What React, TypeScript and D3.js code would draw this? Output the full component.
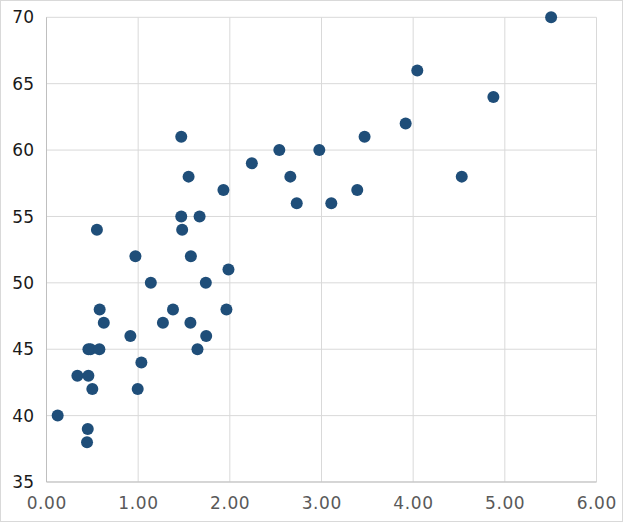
import React from "react";
import * as d3 from "d3";

const xValues = [1.47, 0.55, 0.97, 1.55, 1.93, 1.47, 1.67, 1.48, 1.575, 2.24, 2.54, 2.66, 2.73,
  5.505, 4.045, 4.875, 3.918, 3.47, 2.976, 4.53, 3.39, 3.107,
  1.985, 1.138, 1.738, 0.58, 1.38, 1.963, 0.625, 1.27, 1.57, 0.915, 1.742, 0.457, 0.48, 0.577, 1.647, 1.035, 0.337, 0.457, 0.50, 0.995, 0.122, 0.45, 0.442];
const yValues = [61, 54, 52, 58, 57, 55, 55, 54, 52, 59, 60, 58, 56,
  70, 66, 64, 62, 61, 60, 58, 57, 56,
  51, 50, 50, 48, 48, 48, 47, 47, 47, 46, 46, 45, 45, 45, 45, 44, 43, 43, 42, 42, 40, 39, 38];
const xTicks = [0, 1, 2, 3, 4, 5, 6];
const yTicks = [35, 40, 45, 50, 55, 60, 65, 70];

export default function App() {
  const W = 624, H = 523;
  const left = 46.5, right = 596.5, top = 17.3, bottom = 482;
  const x = d3.scaleLinear().domain([0, 6]).range([left, right]);
  const y = d3.scaleLinear().domain([35, 70]).range([bottom, top]);
  const font = "'DejaVu Sans', Verdana, sans-serif";
  return (
    <svg width={W} height={H} style={{ position: "absolute", left: 0, top: 0 }}>
      <rect x={0.5} y={0.5} width={W - 2} height={H - 2} fill="#fff" stroke="#d9d9d9" />
      {xTicks.map((t) => (
        <line key={"gx" + t} x1={x(t)} x2={x(t)} y1={top} y2={bottom} stroke="#d9d9d9" />
      ))}
      {yTicks.map((t) => (
        <line key={"gy" + t} x1={left} x2={right} y1={y(t)} y2={y(t)} stroke="#d9d9d9" />
      ))}
      <line x1={left} x2={right} y1={bottom} y2={bottom} stroke="#bfbfbf" />
      <line x1={left} x2={left} y1={top} y2={bottom} stroke="#bfbfbf" />
      {yTicks.map((t) => (
        <text key={"ty" + t} x={34} y={y(t)} dy="0.36em" textAnchor="end" fontSize={17} fontFamily={font} fill="#1a1a1a">
          {t}
        </text>
      ))}
      {xTicks.map((t) => (
        <text key={"tx" + t} x={x(t) + 0.3} y={502.5} dy="0.36em" textAnchor="middle" fontSize={17} letterSpacing={0.6} fontFamily={font} fill="#595959">
          {d3.format(".2f")(t)}
        </text>
      ))}
      {xValues.map((v, i) => (
        <circle key={i} cx={x(v)} cy={y(yValues[i])} r={6} fill="#1f4e79" />
      ))}
    </svg>
  );
}
